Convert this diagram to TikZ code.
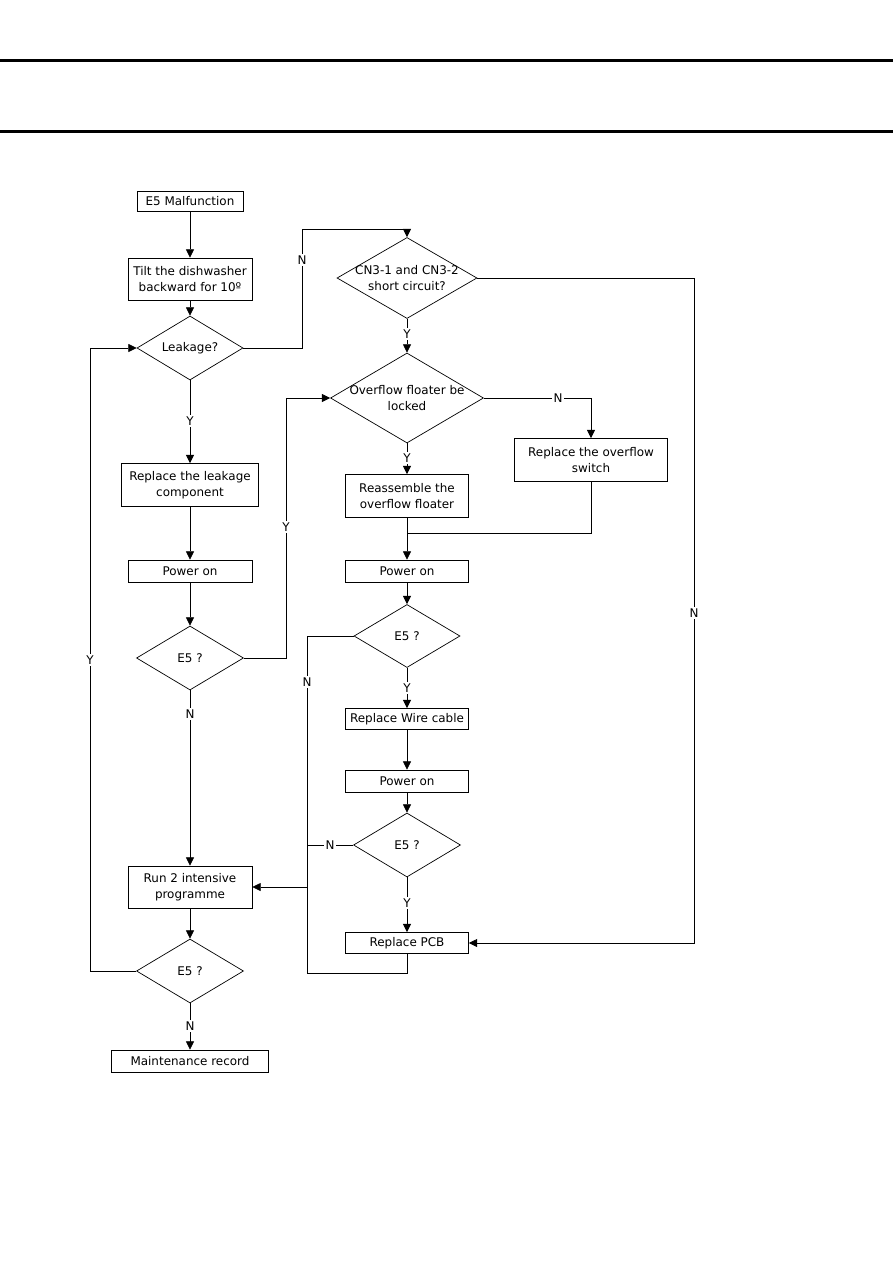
\documentclass[tikz,border=0pt]{standalone}
\usepackage{fontspec}
\setmainfont{DejaVu Sans}
\usetikzlibrary{arrows.meta,shapes.geometric}

\begin{document}
\begin{tikzpicture}[x=0.3mm,y=-0.3mm,
  every node/.style={font=\fontsize{10.2}{14}\selectfont,align=center},
  box/.style={rectangle,draw,line width=0.6pt,inner sep=1pt},
  decision/.style={diamond,draw,line width=0.6pt,inner sep=0pt},
  yn/.style={fill=white,inner sep=1pt},
  arr/.style={-{Triangle[length=2.5mm,width=2.4mm]},line width=0.6pt},
  link/.style={line width=0.6pt}
]
\useasboundingbox (0,0) rectangle (893,1263);
% header rules
\draw[line width=0.9mm] (0,60.5) -- (893,60.5);
\draw[line width=0.9mm] (0,131.5) -- (893,131.5);

% left column
\node[box,minimum width=31.8mm,minimum height=6mm] (start) at (190,201) {E5 Malfunction};
\node[box,minimum width=37.2mm,minimum height=12.6mm] (tilt) at (190,279) {Tilt the dishwasher\\backward for 10º};
\node[decision,minimum width=31.8mm,minimum height=19.2mm] (leak) at (190,348) {};
\node at (leak) {Leakage?};
\node[box,minimum width=41.1mm,minimum height=12.9mm] (leakfix) at (190,485) {Replace the leakage\\component};
\node[box,minimum width=37.2mm,minimum height=6.6mm] (pwrA) at (190,571) {Power on};
\node[decision,minimum width=32.1mm,minimum height=19.2mm] (e5a) at (190,658) {};
\node at (e5a) {E5 ?};
\node[box,minimum width=37.2mm,minimum height=12.6mm] (run) at (190,887) {Run 2 intensive\\programme};
\node[decision,minimum width=32.1mm,minimum height=19.2mm] (e5b) at (190,971) {};
\node at (e5b) {E5 ?};
\node[box,minimum width=47.1mm,minimum height=6.6mm] (maint) at (190,1061) {Maintenance record};

% right column
\node[decision,minimum width=42mm,minimum height=24.3mm] (cn3) at (407,278) {};
\node at (cn3) {CN3-1 and CN3-2\\short circuit?};
\node[decision,minimum width=45.9mm,minimum height=27mm] (lock) at (407,398) {};
\node at (lock) {Overflow floater be\\locked};
\node[box,minimum width=36.9mm,minimum height=12.9mm] (reasm) at (407,496) {Reassemble the\\overflow floater};
\node[box,minimum width=45.9mm,minimum height=12.9mm] (swap) at (591,460) {Replace the overflow\\switch};
\node[box,minimum width=36.9mm,minimum height=6.6mm] (pwrB) at (407,571) {Power on};
\node[decision,minimum width=31.8mm,minimum height=18.9mm] (e5c) at (407,636) {};
\node at (e5c) {E5 ?};
\node[box,minimum width=36.9mm,minimum height=6.3mm] (wire) at (407,719) {Replace Wire cable};
\node[box,minimum width=36.9mm,minimum height=6.6mm] (pwrC) at (407,781) {Power on};
\node[decision,minimum width=32.1mm,minimum height=19.2mm] (e5d) at (407,845) {};
\node at (e5d) {E5 ?};
\node[box,minimum width=36.9mm,minimum height=6.3mm] (pcb) at (407,943) {Replace PCB};

% corner points
\coordinate (c1) at (302,229);
\coordinate (c2) at (286,398);
\coordinate (c3) at (90,348);
\coordinate (c4) at (694,943);
\coordinate (c5) at (407,533);
\coordinate (c6) at (307,887);
\coordinate (c7) at (307,845);
\coordinate (c8) at (307,973);

% connectors
\draw[arr] (start) -- (tilt);
\draw[arr] (tilt) -- (leak);
\draw[arr] (leak.east) -| (c1) -| (cn3.north);
\draw[arr] (leak) -- (leakfix);
\draw[arr] (leakfix) -- (pwrA);
\draw[arr] (pwrA) -- (e5a);
\draw[arr] (e5a.east) -| (c2) -- (lock.west);
\draw[arr] (e5a) -- (run);
\draw[arr] (run) -- (e5b);
\draw[arr] (e5b.west) -| (c3) -- (leak.west);
\draw[arr] (e5b) -- (maint);
\draw[arr] (cn3) -- (lock);
\draw[arr] (cn3.east) -| (c4) -- (pcb.east);
\draw[arr] (lock) -- (reasm);
\draw[arr] (lock.east) -| (swap.north);
\draw[arr] (reasm) -- (pwrB);
\draw[link] (swap.south) |- (c5);
\draw[arr] (pwrB) -- (e5c);
\draw[arr] (e5c) -- (wire);
\draw[arr] (e5c.west) -| (c6) -- (run.east);
\draw[arr] (wire) -- (pwrC);
\draw[arr] (pwrC) -- (e5d);
\draw[link] (e5d.west) -- (c7);
\draw[arr] (e5d) -- (pcb);
\draw[link] (pcb.south) |- (c8) -- (c6);

% branch labels
\node[yn] at (302,260) {N};
\node[yn] at (190,421) {Y};
\node[yn] at (286,527) {Y};
\node[yn] at (190,714) {N};
\node[yn] at (90,660) {Y};
\node[yn] at (190,1026) {N};
\node[yn] at (407,334) {Y};
\node[yn] at (694,613) {N};
\node[yn] at (407,458) {Y};
\node[yn] at (558,398) {N};
\node[yn] at (407,688) {Y};
\node[yn] at (307,682) {N};
\node[yn] at (330,845) {N};
\node[yn] at (407,903) {Y};
\end{tikzpicture}
\end{document}
